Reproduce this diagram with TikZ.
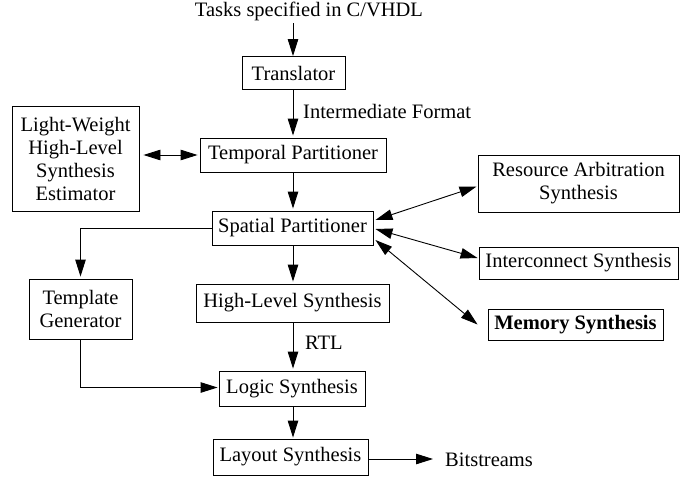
\documentclass[tikz,border=0pt]{standalone}
\usepackage{fontspec}
\setmainfont{Liberation Serif}
\usetikzlibrary{arrows.meta,calc}
\begin{document}
\begin{tikzpicture}[x=1pt,y=-1pt,
  font=\fontsize{20.5}{23}\selectfont,
  box/.style={draw,line width=0.9pt,inner sep=0pt,align=center},
  arr/.style={line width=0.9pt,-{Triangle[length=17pt,width=10.5pt]}},
  darr/.style={line width=0.9pt,{Triangle[length=17pt,width=10.5pt]}-{Triangle[length=17pt,width=10.5pt]}}]
\useasboundingbox (0,0) rectangle (692,479);
\node (tasks) at (309,11) {Tasks specified in C/VHDL};
\node[box,minimum width=103pt,minimum height=33pt] (trans) at (293.5,73) {Translator};
\node[box,minimum width=186pt,minimum height=34pt] (temp) at (293,155) {Temporal Partitioner};
\node[box,minimum width=127pt,minimum height=105pt] (lw) at (75.5,158.5) {Light-Weight\\High-Level\\Synthesis\\Estimator};
\node[box,minimum width=161pt,minimum height=34pt] (spat) at (292.5,228) {Spatial Partitioner};
\node[box,minimum width=103pt,minimum height=60pt] (tmpl) at (80.5,309) {Template\\Generator};
\node[box,minimum width=193pt,minimum height=38pt] (hls) at (292.5,303) {High-Level Synthesis};
\node[box,minimum width=146pt,minimum height=35pt] (logic) at (292,388.5) {Logic Synthesis};
\node[box,minimum width=155pt,minimum height=36pt] (lay) at (290.5,457) {Layout Synthesis};
\node[box,minimum width=201pt,minimum height=57pt] (res) at (578.5,183.5) {Resource Arbitration\\Synthesis};
\node[box,minimum width=199pt,minimum height=32pt] (inter) at (578.5,263) {Interconnect Synthesis};
\node[box,minimum width=175pt,minimum height=31pt] (mem) at (575.5,324.5) {\bfseries Memory Synthesis};
\node[anchor=west,inner sep=0pt] (bits) at (445,460) {Bitstreams};
\node[anchor=west,inner sep=0pt] (imf) at (303,111) {Intermediate Format};
\node[anchor=west,inner sep=0pt] (rtl) at (305,343) {RTL};
\coordinate (top) at (293,23);
\coordinate (bt) at ([xshift=-12pt]bits.west);
\coordinate (le) at ([yshift=-2pt]lay.east);
% vertical flow
\draw[arr] (top) -- (trans.north -| top);
\draw[arr] (trans.south -| top) -- ([yshift=2pt]temp.north -| top);
\draw[arr] (temp.south -| top) -- ([yshift=2pt]spat.north -| top);
\draw[arr] (spat.south -| top) -- ([yshift=2pt]hls.north -| top);
\draw[arr] (hls.south -| top) -- ([yshift=2pt]logic.north -| top);
\draw[arr] (logic.south -| top) -- ([yshift=1pt]lay.north -| top);
\draw[arr] (le) -- (le -| bt);
\draw[darr,shorten <=4pt,shorten >=2pt] (lw.east |- temp.west) -- (temp.west);
% side paths
\draw[arr] (spat.west) -| ([yshift=2pt]tmpl.north);
\draw[arr] (tmpl.south) |- ([xshift=-1pt,yshift=1pt]logic.west);
% right side
\draw[darr] ([xshift=2pt,yshift=8pt]spat.east) -- ([xshift=-1pt,yshift=-3pt]res.west);
\draw[darr] ([xshift=2pt,yshift=-1pt]spat.east) -- ([xshift=-1pt,yshift=5pt]inter.west);
\draw[darr] ([xshift=2pt,yshift=-12pt]spat.east) -- ([xshift=-10pt,yshift=0pt]mem.west);
\end{tikzpicture}
\end{document}
